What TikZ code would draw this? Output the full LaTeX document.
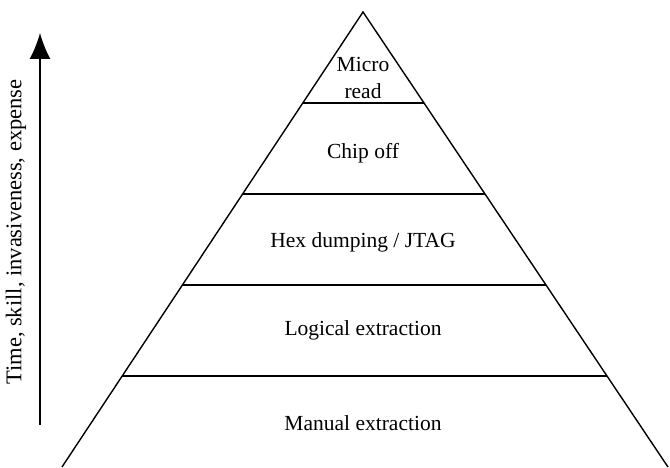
\documentclass[tikz,border=0pt]{standalone}
\usepackage{fontspec}
\setmainfont{Liberation Serif}
\usetikzlibrary{arrows.meta,calc}

\begin{document}
\begin{tikzpicture}[x=1pt,y=1pt,line width=1.4pt,
  every node/.style={font=\fontsize{21.5}{27}\selectfont, align=center}]
\useasboundingbox (0,0) rectangle (670,467);
% Pyramid outline
\coordinate (apex) at (363,455);
\coordinate (bl) at (62,0);
\coordinate (br) at (668,0);
\draw (bl) -- (apex) -- (br);

% Band dividers
\foreach \t in {0.2,0.4,0.6,0.8}{
  \draw ($(apex)!\t!(bl)$) -- ($(apex)!\t!(br)$);
}

% Band labels
\node (micro) at (363,389) {Micro\\read};
\node (chip) at (363,314) {Chip off};
\node (hex) at (363,225) {Hex dumping / JTAG};
\node (logical) at (363,137) {Logical extraction};
\node (manual) at (363,44) {Manual extraction};

% Axis arrow
\coordinate (low) at (40,42);
\coordinate (high) at (40,434);
\draw[-{Latex[length=26pt,width=21pt]}] (low) -- (high);
\node[rotate=90, font=\fontsize{22.5}{27}\selectfont] (axis) at (16,235) {Time, skill, invasiveness, expense};
\end{tikzpicture}
\end{document}
